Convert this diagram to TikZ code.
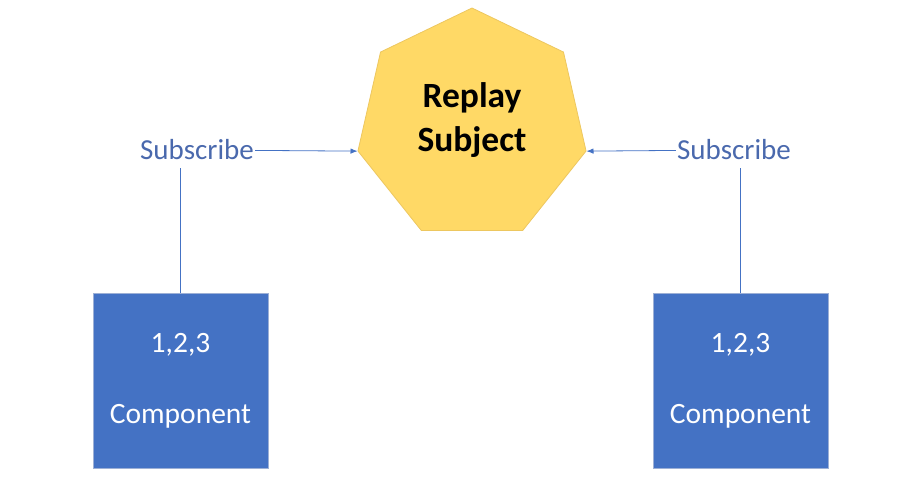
\documentclass[tikz,border=0pt]{standalone}
\usepackage{fontspec}
\setmainfont{Carlito}
\usetikzlibrary{positioning, shapes.geometric, arrows.meta}
\definecolor{subjfill}{HTML}{FFD966}
\definecolor{subjdraw}{HTML}{EDC760}
\definecolor{compfill}{HTML}{4472C4}
\definecolor{compdraw}{HTML}{9DB0D6}
\definecolor{subtext}{HTML}{4A69AD}

\begin{document}
\begin{tikzpicture}[x=1pt, y=-1pt, auto,
	subj/.style={regular polygon, regular polygon sides=7, minimum size=234pt, inner sep=0pt, draw=subjdraw, line width=0.8pt, fill=subjfill},
	subjtxt/.style={align=center, font=\fontsize{35.5}{44}\selectfont\bfseries, text=black},
	comp/.style={rectangle, draw=compdraw, line width=0.8pt, fill=compfill, minimum width=175pt, minimum height=175pt, align=center, text=white, font=\fontsize{29.5}{71}\selectfont},
	sub/.style={inner sep=1pt, text=subtext, font=\fontsize{29}{34}\selectfont},
	conn/.style={draw=compfill, line width=0.8pt},
	arr/.style={conn, -{Latex[length=7pt, width=5.5pt]}}]
	\useasboundingbox (0,0) rectangle (915,489);

	\node[subj] (RS) at (472,125) {};
	\node[subjtxt] (RSt) at (472,120) {Replay\\Subject};

	\node[sub] (S0) at (197,150) {Subscribe} edge[arr] (RS.corner 3);
	\node[sub] (S1) at (734,150) {Subscribe} edge[arr] (RS.corner 6);

	\coordinate (T0) at (180.5,168);
	\coordinate (T1) at (740.5,168);

	\node[comp] (B0) at (180.5,380.5) {1,2,3\\Component};
	\node[comp] (B1) at (740.5,380.5) {1,2,3\\Component};
	\draw[conn] (B0.north) -- (T0);
	\draw[conn] (B1.north) -- (T1);
\end{tikzpicture}
\end{document}
